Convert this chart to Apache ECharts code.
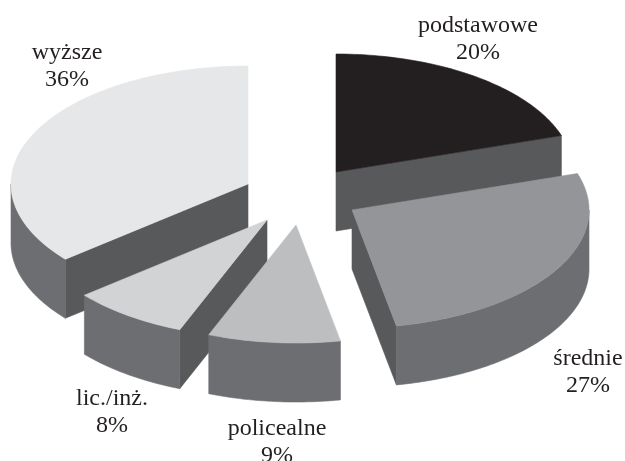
<!DOCTYPE html>
<html>
<head>
<meta charset="utf-8">
<style>html,body{margin:0;padding:0;background:#fff;overflow:hidden}#c{width:625px;height:461px}</style>
<script src="https://cdn.jsdelivr.net/npm/echarts@6/dist/echarts.min.js"></script>
</head>
<body>
<div id="c"></div>
<script>
// Data, clockwise from the top of the pie
const categories = ['podstawowe', 'średnie', 'policealne', 'lic./inż.', 'wyższe'];
const percentValues = [20, 27, 9, 8, 36];

// Presentation
const topColors = ['#231f20', '#939598', '#bcbec0', '#d1d3d4', '#e6e7e8'];
const wallColor = '#6d6e71';
const cutColor = '#58595b';
const apexes = [[336, 172], [352, 210], [296, 225], [267, 220], [248, 184]];
const labelCenters = [[478, 39], [588, 372], [277, 442], [112, 412], [67, 66]];
const drawOrder = [0, 1, 4, 3, 2];
const RX = 237, RY = 118, DEPTH = 59;

const total = percentValues.reduce((a, b) => a + b, 0);
const starts = [];
percentValues.reduce((acc, v, i) => { starts[i] = acc; return acc + v; }, 0);

function rimPoint(apex, theta, dy) {
  return [apex[0] + RX * Math.sin(theta), apex[1] - RY * Math.cos(theta) + (dy || 0)];
}
function arc(apex, a, b, dy) {
  const n = Math.max(2, Math.ceil(Math.abs(b - a) / 0.02));
  const pts = [];
  for (let i = 0; i <= n; i++) pts.push(rimPoint(apex, a + (b - a) * i / n, dy));
  return pts;
}
function poly(points, fill, stroke) {
  return { type: 'polygon', shape: { points }, style: { fill, stroke: stroke || fill, lineWidth: 0.6 } };
}

function renderItem(params, api) {
  const i = api.value(0);
  const value = api.value(1);
  const apex = apexes[i];
  const a = starts[i] / total * 2 * Math.PI;
  const b = (starts[i] + value) / total * 2 * Math.PI;
  const children = [];
  const face = (t) => {
    const p = rimPoint(apex, t);
    return poly([apex, p, [p[0], p[1] + DEPTH], [apex[0], apex[1] + DEPTH]], cutColor);
  };
  if (Math.sin(a) < -1e-6) children.push(face(a));
  if (Math.sin(b) > 1e-6) children.push(face(b));
  const w0 = Math.max(a, Math.PI / 2), w1 = Math.min(b, 3 * Math.PI / 2);
  if (w1 > w0) {
    children.push(poly(arc(apex, w0, w1, 0).concat(arc(apex, w1, w0, DEPTH)), wallColor));
  }
  children.push(poly([apex].concat(arc(apex, a, b, 0)), topColors[i]));
  const lc = labelCenters[i];
  children.push({
    type: 'text',
    style: {
      x: lc[0], y: lc[1], text: categories[i] + '\n' + value + '%',
      align: 'center', verticalAlign: 'middle',
      font: '24px "Liberation Serif", serif', lineHeight: 27, fill: '#231f20'
    }
  });
  return { type: 'group', children };
}

const chart = echarts.init(document.getElementById('c'), null, { renderer: 'canvas' });
chart.setOption({
  animation: false,
  backgroundColor: '#ffffff',
  series: [{
    type: 'custom',
    coordinateSystem: 'none',
    renderItem,
    clip: false,
    silent: true,
    data: drawOrder.map(i => [i, percentValues[i]])
  }]
});
</script>
</body>
</html>
